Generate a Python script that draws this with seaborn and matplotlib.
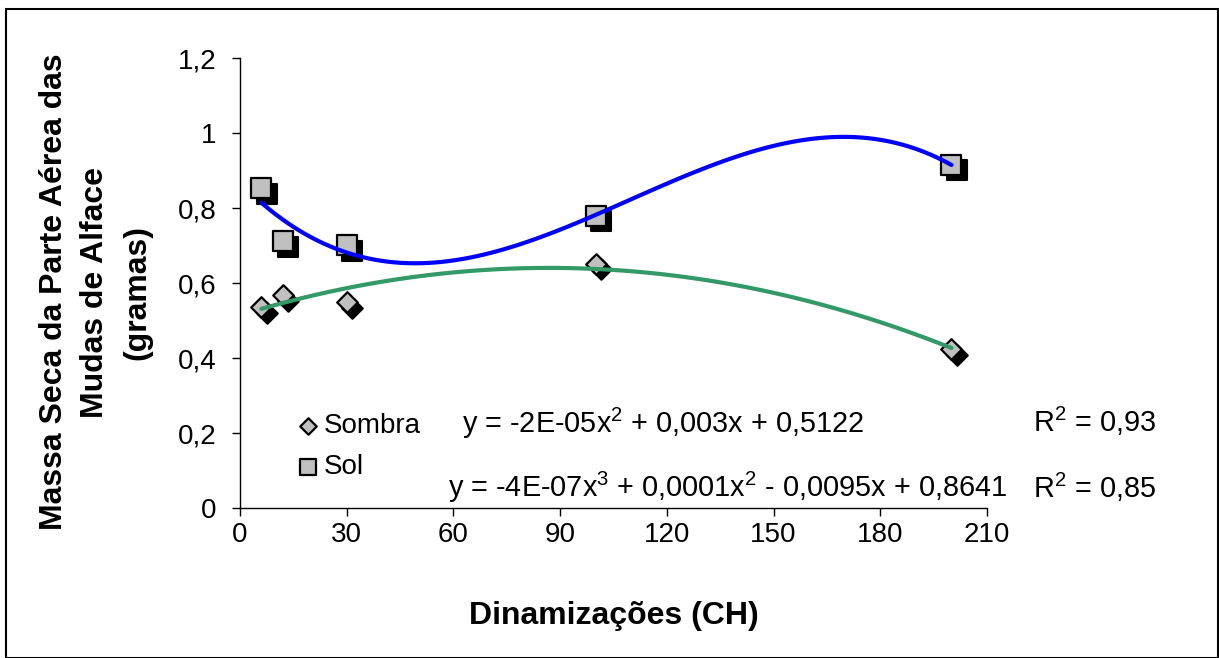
import numpy as np
import pandas as pd
import matplotlib
matplotlib.use("Agg")
import matplotlib.pyplot as plt
import seaborn as sns
from matplotlib.transforms import offset_copy
from matplotlib.patches import Rectangle

# ---- data ----
dinamizacoes = [6, 12, 30, 100, 200]
sombra = [0.536, 0.568, 0.549, 0.651, 0.424]
sol = [0.853, 0.712, 0.701, 0.780, 0.915]
x_ticks = [0, 30, 60, 90, 120, 150, 180, 210]
y_ticks = [0, 0.2, 0.4, 0.6, 0.8, 1.0, 1.2]
y_tick_labels = ["0", "0,2", "0,4", "0,6", "0,8", "1", "1,2"]
series_names = ["Sombra", "Sol"]
eq_sombra = "y = -2E-05x$^2$ + 0,003x + 0,5122"
r2_sombra = "R$^2$ = 0,93"
eq_sol = "y = -4E-07x$^3$ + 0,0001x$^2$ - 0,0095x + 0,8641"
r2_sol = "R$^2$ = 0,85"
x_label = "Dinamizações (CH)"
y_label = "Massa Seca da Parte Aérea das\nMudas de Alface\n(gramas)"

sns.set_style("ticks")
plt.rcParams['font.family'] = ['Liberation Sans', 'DejaVu Sans']
plt.rcParams.update({
    "text.color": "black", "axes.labelcolor": "black",
    "xtick.color": "black", "ytick.color": "black",
    "mathtext.fontset": "custom", "mathtext.rm": "Liberation Sans",
    "mathtext.it": "Liberation Sans", "mathtext.bf": "Liberation Sans:bold",
})

W, H = 1219, 658
fig = plt.figure(figsize=(W / 100, H / 100), dpi=100)
fig.patch.set_facecolor("white")
ax = fig.add_axes([240 / W, 1 - 508 / H, 747 / W, 450 / H])

df = pd.DataFrame({"x": dinamizacoes, "sombra": sombra, "sol": sol})
shadow = offset_copy(ax.transData, fig=fig, x=5.5, y=-5.5, units='dots')

gray = "#C0C0C0"
# shadows
sns.scatterplot(data=df, x="x", y="sombra", marker="D", s=110, color="black",
                edgecolor="black", linewidth=1.5, transform=shadow, ax=ax,
                legend=False, zorder=2)
sns.scatterplot(data=df, x="x", y="sol", marker="s", s=210, color="black",
                edgecolor="black", linewidth=1.5, transform=shadow, ax=ax,
                legend=False, zorder=2)
# markers
sns.scatterplot(data=df, x="x", y="sombra", marker="D", s=110, color=gray,
                edgecolor="black", linewidth=1.6, ax=ax, label=series_names[0],
                zorder=3)
sns.scatterplot(data=df, x="x", y="sol", marker="s", s=210, color=gray,
                edgecolor="black", linewidth=1.6, ax=ax, label=series_names[1],
                zorder=3)
# trend lines
sns.regplot(data=df, x="x", y="sol", order=3, ci=None, scatter=False, ax=ax,
            truncate=True, line_kws=dict(color="#0000FF", lw=3,
                                         solid_capstyle="round", zorder=4))
sns.regplot(data=df, x="x", y="sombra", order=2, ci=None, scatter=False, ax=ax,
            truncate=True, line_kws=dict(color="#339966", lw=3,
                                         solid_capstyle="round", zorder=4))

ax.set_xlim(0, 210)
ax.set_ylim(0, 1.2)
ax.set_xticks(x_ticks)
ax.set_xticklabels([str(t) for t in x_ticks])
ax.set_yticks(y_ticks)
ax.set_yticklabels(y_tick_labels)
ax.tick_params(axis="both", direction="out", length=6, width=1, color="black",
               labelsize=20, labelcolor="black")
ax.tick_params(axis="y", pad=11)
ax.tick_params(axis="x", pad=4)
for s in ["top", "right"]:
    ax.spines[s].set_visible(False)
for s in ["left", "bottom"]:
    ax.spines[s].set_color("black")
    ax.spines[s].set_linewidth(1)

ax.set_xlabel(x_label, fontsize=23, fontweight="bold", va="top")
ax.xaxis.set_label_coords(0.5, (508 - 601) / 450)
ax.set_ylabel(y_label, fontsize=23, fontweight="bold", linespacing=1.5)
ax.yaxis.set_label_coords((152 - 240) / 747, (508 - 292) / 450)

leg = ax.legend(loc="upper left", bbox_to_anchor=(283 / W, 1 - 399 / H),
                bbox_transform=fig.transFigure, frameon=False, fontsize=20,
                handlelength=0.8, handletextpad=0.15, labelspacing=0.55,
                borderpad=0, markerscale=0.8)

fig.text(462 / W, 1 - 423 / H, eq_sombra, fontsize=20.8, va="center", ha="left")
fig.text(1033 / W, 1 - 421 / H, r2_sombra, fontsize=20.8, va="center", ha="left")
fig.text(448 / W, 1 - 487 / H, eq_sol, fontsize=20.8, va="center", ha="left")
fig.text(1033 / W, 1 - 487 / H, r2_sol, fontsize=20.8, va="center", ha="left")

fig.patches.append(Rectangle((6 / W, 0.5 / H), (1217.5 - 6) / W, (H - 9 - 0.5) / H,
                             transform=fig.transFigure, fill=False,
                             edgecolor="black", linewidth=1.5))

fig.savefig("out.png", dpi=100)
